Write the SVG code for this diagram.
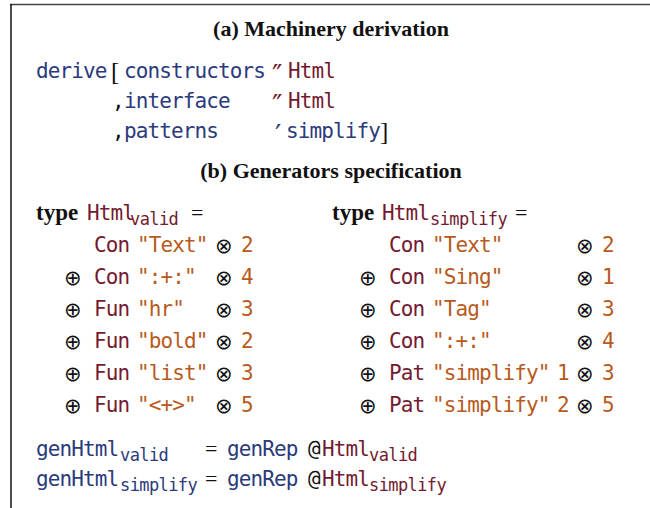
<svg xmlns="http://www.w3.org/2000/svg" width="650" height="508" viewBox="0 0 650 508">
<style>
.hd{font-family:"Liberation Serif",serif;font-weight:bold;font-size:22px;fill:#111;}
.kw{font-family:"Liberation Serif",serif;font-weight:bold;font-size:23px;fill:#111;}
.m{font-family:"DejaVu Sans Mono",monospace;font-size:21px;letter-spacing:-0.9px;}
.s{font-family:"DejaVu Sans Mono",monospace;font-size:17px;letter-spacing:-0.6px;}
.b{fill:#2b3a7c;}
.r{fill:#741a30;}
.o{fill:#b85a20;}
.k{fill:#111;}
.sym{font-family:"DejaVu Sans",sans-serif;font-size:21px;fill:#111;}
.pr{font-family:"DejaVu Sans",sans-serif;font-size:28px;}
.br{font-family:"Liberation Serif",serif;font-size:25px;fill:#111;}
.eq{font-family:"Liberation Serif",serif;font-size:22px;fill:#111;}
</style>
<g id="frame">
<line x1="10" y1="4.5" x2="650" y2="4.5" stroke="#444" stroke-width="1.5"/>
<line x1="11" y1="4" x2="11" y2="508" stroke="#111" stroke-width="1.5"/>
</g>
<g id="heading-a">
<text class="hd" x="331" y="36" text-anchor="middle">(a) Machinery derivation</text>
</g>
<g id="derive-block">
<text class="m b" x="36" y="78">derive</text>
<text class="br" x="111" y="80">[</text>
<text class="m b" x="124" y="78">constructors</text>
<text class="pr r" x="272" y="85">″</text>
<text class="m r" x="288" y="78">Html</text>
<text class="m k" x="112" y="108">,</text>
<text class="m b" x="124" y="108">interface</text>
<text class="pr r" x="272" y="115">″</text>
<text class="m r" x="288" y="108">Html</text>
<text class="m k" x="112" y="138">,</text>
<text class="m b" x="124" y="138">patterns</text>
<text class="pr b" x="275" y="145">′</text>
<text class="m b" x="286" y="138">simplify</text>
<text class="br" x="380" y="140">]</text>
</g>
<g id="heading-b">
<text class="hd" x="331" y="178" text-anchor="middle">(b) Generators specification</text>
</g>
<g id="html-valid">
<text class="kw" x="36" y="220">type</text>
<text class="m r" x="87" y="220">Html</text>
<text class="s r" x="130" y="225">valid</text>
<text class="eq" x="191" y="220">=</text>
<text class="m r" x="94" y="252">Con</text><text class="m o" x="137" y="252">"Text"</text><text class="sym" x="215" y="253">⊗</text><text class="m o" x="241" y="252">2</text>
<text class="sym" x="64" y="285">⊕</text><text class="m r" x="94" y="284">Con</text><text class="m o" x="137" y="284">":+:"</text><text class="sym" x="215" y="285">⊗</text><text class="m o" x="241" y="284">4</text>
<text class="sym" x="64" y="317">⊕</text><text class="m r" x="94" y="316">Fun</text><text class="m o" x="137" y="316">"hr"</text><text class="sym" x="215" y="317">⊗</text><text class="m o" x="241" y="316">3</text>
<text class="sym" x="64" y="349">⊕</text><text class="m r" x="94" y="348">Fun</text><text class="m o" x="137" y="348">"bold"</text><text class="sym" x="215" y="349">⊗</text><text class="m o" x="241" y="348">2</text>
<text class="sym" x="64" y="381">⊕</text><text class="m r" x="94" y="380">Fun</text><text class="m o" x="137" y="380">"list"</text><text class="sym" x="215" y="381">⊗</text><text class="m o" x="241" y="380">3</text>
<text class="sym" x="64" y="413">⊕</text><text class="m r" x="94" y="412">Fun</text><text class="m o" x="137" y="412">"&lt;+&gt;"</text><text class="sym" x="215" y="413">⊗</text><text class="m o" x="241" y="412">5</text>
</g>
<g id="html-simplify">
<text class="kw" x="332" y="220">type</text>
<text class="m r" x="382" y="220">Html</text>
<text class="s r" x="430" y="225">simplify</text>
<text class="eq" x="515" y="220">=</text>
<text class="m r" x="389" y="252">Con</text><text class="m o" x="432" y="252">"Text"</text><text class="sym" x="576" y="253">⊗</text><text class="m o" x="602" y="252">2</text>
<text class="sym" x="359" y="285">⊕</text><text class="m r" x="389" y="284">Con</text><text class="m o" x="432" y="284">"Sing"</text><text class="sym" x="576" y="285">⊗</text><text class="m o" x="602" y="284">1</text>
<text class="sym" x="359" y="317">⊕</text><text class="m r" x="389" y="316">Con</text><text class="m o" x="432" y="316">"Tag"</text><text class="sym" x="576" y="317">⊗</text><text class="m o" x="602" y="316">3</text>
<text class="sym" x="359" y="349">⊕</text><text class="m r" x="389" y="348">Con</text><text class="m o" x="432" y="348">":+:"</text><text class="sym" x="576" y="349">⊗</text><text class="m o" x="602" y="348">4</text>
<text class="sym" x="359" y="381">⊕</text><text class="m r" x="389" y="380">Pat</text><text class="m o" x="432" y="380">"simplify"</text><text class="m o" x="557" y="380">1</text><text class="sym" x="576" y="381">⊗</text><text class="m o" x="602" y="380">3</text>
<text class="sym" x="359" y="413">⊕</text><text class="m r" x="389" y="412">Pat</text><text class="m o" x="432" y="412">"simplify"</text><text class="m o" x="557" y="412">2</text><text class="sym" x="576" y="413">⊗</text><text class="m o" x="602" y="412">5</text>
</g>
<g id="gen-defs">
<text class="m b" x="36" y="456">genHtml</text>
<text class="s b" x="120" y="461">valid</text>
<text class="eq" x="205" y="456">=</text>
<text class="m b" x="227" y="456">genRep</text>
<text class="m k" x="308" y="456">@</text>
<text class="m r" x="322" y="456">Html</text>
<text class="s r" x="369" y="461">valid</text>
<text class="m b" x="36" y="486">genHtml</text>
<text class="s b" x="120" y="491">simplify</text>
<text class="eq" x="205" y="486">=</text>
<text class="m b" x="227" y="486">genRep</text>
<text class="m k" x="308" y="486">@</text>
<text class="m r" x="322" y="486">Html</text>
<text class="s r" x="369" y="491">simplify</text>
</g>
</svg>
